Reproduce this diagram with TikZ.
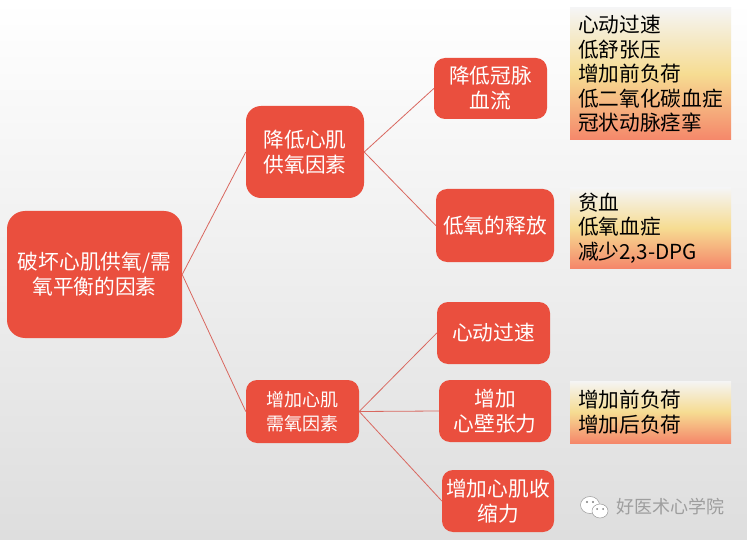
\documentclass[tikz,border=0pt]{standalone}
\usepackage{fontspec}
\setmainfont{Noto Sans CJK SC}
\usetikzlibrary{positioning, calc}
\definecolor{boxred}{HTML}{EA4F3E}
\definecolor{linered}{HTML}{D9675F}
\definecolor{noteyellow}{HTML}{F6DC92}
\definecolor{notesalmon}{HTML}{F5876A}
\tikzset{
  rednode/.style={draw=none, fill=boxred, text=white, rounded corners=11pt, align=center, inner sep=0pt, font=\fontsize{20.7}{25}\selectfont},
  smallred/.style={rednode, font=\fontsize{18}{24}\selectfont},
  notebox/.style={rectangle, inner sep=0pt, text=black, minimum width=161pt, text width=145pt, align=left, top color=white!96!black, bottom color=notesalmon, middle color=noteyellow, font=\fontsize{20.7}{24.5}\selectfont},
  link/.style={draw=linered, line width=0.8pt},
}
\begin{document}
\begin{tikzpicture}[x=1pt, y=-1pt]
  \shade[top color=white, bottom color=black!13] (0,0) rectangle (747,540);
  \useasboundingbox (0,0) rectangle (747,540);
  % left side
  \node[rednode, minimum width=175pt, minimum height=127pt, rounded corners=18pt] (root) at (94.5,274.5) {破坏心肌供氧/需\\氧平衡的因素};
  \node[rednode, minimum width=118pt, minimum height=92pt, rounded corners=15pt] (supply) at (305,152) {降低心肌\\供氧因素};
  \node[smallred, minimum width=113pt, minimum height=63pt] (demand) at (302.5,411.5) {增加心肌\\需氧因素};
  % middle column
  \node[rednode, minimum width=113pt, minimum height=61pt] (flow) at (490.5,88.5) {降低冠脉\\血流};
  \node[rednode, minimum width=118pt, minimum height=73pt] (release) at (495,225.5) {低氧的释放};
  \node[rednode, minimum width=113pt, minimum height=62pt] (rate) at (493.5,333) {心动过速};
  \node[rednode, minimum width=112pt, minimum height=62pt] (wall) at (495,411) {增加\\心壁张力};
  \node[rednode, minimum width=112pt, minimum height=62pt] (contract) at (498,501) {增加心肌收\\缩力};
  % notes on the right
  \node[notebox, minimum height=132pt] (noteflow) at (650.5,74) {心动过速\\低舒张压\\增加前负荷\\低二氧化碳血症\\冠状动脉痉挛};
  \node[notebox, minimum height=80pt] (noterelease) at (650.5,228) {贫血\\低氧血症\\减少2,3-DPG};
  \node[notebox, minimum height=62pt] (notewall) at (650.5,412) {增加前负荷\\增加后负荷};
  % connectors
  \draw[link] (root.east) -- (supply.west);
  \draw[link] (root.east) -- (demand.west);
  \draw[link] (supply.east) -- (flow.west);
  \draw[link] (supply.east) -- (release.west);
  \draw[link] (demand.east) -- (rate.west);
  \draw[link] (demand.east) -- (wall.west);
  \draw[link] (demand.east) -- (contract.west);
  % watermark
  \fill[white, draw=black!40, line width=0.5pt] (590,505) ellipse (9.5pt and 8.5pt);
  \fill[white, draw=black!40, line width=0.5pt] (600,511) ellipse (8pt and 7pt);
  \fill[black!50] (587,502) circle (1.1pt) (593,502) circle (1.1pt) (597,509) circle (1pt) (603,509) circle (1pt);
  \node[text=black!38, font=\fontsize{18}{20}\selectfont, inner sep=0pt] (mark) at (670.5,507) {好医术心学院};
\end{tikzpicture}
\end{document}
